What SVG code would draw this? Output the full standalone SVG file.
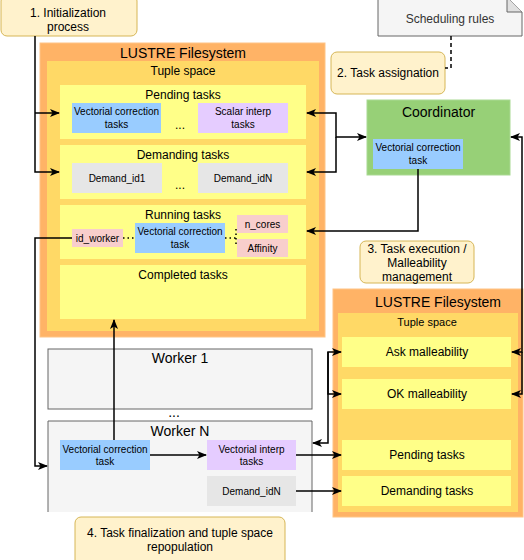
<svg xmlns="http://www.w3.org/2000/svg" width="524" height="560" viewBox="0 0 524 560">
<defs>
<marker id="arr" viewBox="0 0 10 8" refX="9" refY="4" markerWidth="10" markerHeight="8" markerUnits="userSpaceOnUse" orient="auto-start-reverse">
<path d="M0,0 L10,4 L0,8 L2.5,4 Z" fill="#000"/>
</marker>
<style>
text{font-family:"Liberation Sans",Arial,sans-serif;fill:#000;text-anchor:middle}
.t14{font-size:14px}.t12{font-size:12px}.t11{font-size:11px}.t10{font-size:10px}
.step{fill:#fff2cc;stroke:#d6b656;stroke-width:1}
.fs{fill:#ffb366;stroke:#ffc485;stroke-width:1}
.ts{fill:#ffd966;stroke:none}
.row{fill:#ffff88;stroke:none}
.blue{fill:#99ccff;stroke:none}
.purple{fill:#e5ccff;stroke:none}
.gray{fill:#e6e6e6;stroke:none}
.pink{fill:#f8cecc;stroke:none}
.worker{fill:#f5f5f5;stroke:#666;stroke-width:1}
.e{fill:none;stroke:#000;stroke-width:1.5}
.dot{fill:none;stroke:#000;stroke-width:1.5;stroke-dasharray:1.5 3}
</style>
</defs>

<g id="step1"><rect class="step" x="1" y="-5" width="136" height="41" rx="6"/><text class="t12" x="68" y="17">1. Initialization</text><text class="t12" x="68" y="31">process</text></g>

<g id="note"><path d="M378,-3 H507 L522,12 V36 H378 Z" fill="#f5f5f5" stroke="#666" stroke-width="1"/><path d="M507,-3 V12 H522" fill="#e0e0e0" stroke="#666" stroke-width="1"/><text class="t12" x="450" y="23" style="fill:#333">Scheduling rules</text></g>

<g id="step2"><rect class="step" x="331" y="52" width="114" height="42" rx="6"/><text class="t12" x="388" y="77">2. Task assignation</text></g>

<g id="lustre1">
<rect class="fs" x="40" y="43" width="285" height="294"/>
<text class="t14" x="183" y="57.5">LUSTRE Filesystem</text>
<rect class="ts" x="47" y="61" width="272" height="270"/>
<text class="t12" x="183" y="75">Tuple space</text>
</g>
<g id="pending">
<rect class="row" x="60" y="85" width="246" height="54"/><text class="t12" x="183" y="99">Pending tasks</text>
<rect class="blue" x="72" y="103" width="89" height="30"/><text class="t10" x="116.5" y="114.5">Vectorial correction</text><text class="t10" x="116.5" y="127.5">tasks</text>
<text class="t12" x="180" y="129">...</text>
<rect class="purple" x="198" y="103" width="90" height="30"/><text class="t10" x="243" y="114.5">Scalar interp</text><text class="t10" x="243" y="127.5">tasks</text>
</g>
<g id="demanding">
<rect class="row" x="60" y="145" width="246" height="54"/><text class="t12" x="183" y="159">Demanding tasks</text>
<rect class="gray" x="72" y="163" width="90" height="30"/><text class="t10" x="117" y="181.5">Demand_id1</text>
<text class="t12" x="180" y="189">...</text>
<rect class="gray" x="198" y="163" width="90" height="30"/><text class="t10" x="243" y="181.5">Demand_idN</text>
</g>
<g id="running">
<rect class="row" x="60" y="205" width="246" height="54"/><text class="t12" x="183" y="219">Running tasks</text>
<rect class="pink" x="72" y="229" width="51" height="18"/><text class="t10" x="97.5" y="241.5">id_worker</text>
<rect class="blue" x="135" y="223" width="90" height="30"/><text class="t10" x="180" y="235">Vectorial correction</text><text class="t10" x="180" y="248">task</text>
<rect class="pink" x="237" y="215" width="51" height="18"/><text class="t10" x="262.5" y="227.5">n_cores</text>
<rect class="pink" x="237" y="239" width="51" height="18"/><text class="t10" x="262.5" y="251.5">Affinity</text>
<path class="dot" d="M123,238 H135 M225,238 H236 M236,229 V247"/>
</g>
<g id="completed"><rect class="row" x="60" y="265" width="246" height="54"/><text class="t12" x="183" y="279">Completed tasks</text></g>

<g id="coordinator">
<rect x="367" y="100" width="143" height="75" fill="#97d077" stroke="#a9d993" stroke-width="1"/>
<text class="t14" x="438.5" y="117">Coordinator</text>
<rect class="blue" x="373" y="139" width="90" height="30"/><text class="t10" x="418" y="151">Vectorial correction</text><text class="t10" x="418" y="164">task</text>
</g>

<g id="step3"><rect class="step" x="360" y="241" width="114" height="42" rx="6"/><text class="t12" x="417" y="253">3. Task execution /</text><text class="t12" x="417" y="267">Malleability</text><text class="t12" x="417" y="281">management</text></g>

<g id="lustre2">
<rect class="fs" x="333" y="289" width="190" height="228"/>
<text class="t14" x="438" y="307">LUSTRE Filesystem</text>
<rect class="ts" x="338" y="313" width="180" height="199"/>
<text class="t11" x="427" y="326">Tuple space</text>
<rect class="row" x="342" y="337" width="169" height="30"/><text class="t12" x="427" y="356">Ask malleability</text>
<rect class="row" x="342" y="379" width="169" height="30"/><text class="t12" x="427" y="398">OK malleability</text>
<rect class="row" x="342" y="440" width="169" height="30"/><text class="t12" x="427" y="459">Pending tasks</text>
<rect class="row" x="342" y="476" width="169" height="30"/><text class="t12" x="427" y="495">Demanding tasks</text>
</g>

<g id="worker1"><rect class="worker" x="48" y="349" width="264" height="60"/><text class="t14" x="180" y="363">Worker 1</text></g>
<text class="t14" x="174" y="417">...</text>
<g id="workerN">
<path d="M48,512 V421 H312 V512 Z" fill="#f5f5f5" stroke="none"/>
<path d="M48,512 V421 H312 V512" fill="none" stroke="#666" stroke-width="1"/>
<text class="t14" x="180" y="436">Worker N</text>
<rect class="blue" x="60" y="440" width="90" height="30"/><text class="t10" x="105" y="452.5">Vectorial correction</text><text class="t10" x="105" y="464.5">task</text>
<rect class="purple" x="207" y="440" width="89" height="30"/><text class="t10" x="251.5" y="452.5">Vectorial interp</text><text class="t10" x="251.5" y="464.5">tasks</text>
<rect class="gray" x="207" y="476" width="89" height="30"/><text class="t10" x="251.5" y="494.5">Demand_idN</text>
</g>

<g id="step4"><rect class="step" x="75" y="517" width="210" height="50" rx="6"/><text class="t12" x="180" y="537">4. Task finalization and tuple space</text><text class="t12" x="180" y="551">repopulation</text></g>

<g id="connectors">
<path class="e" d="M35,36 V172 H59" marker-end="url(#arr)"/>
<path class="e" d="M35,113 H59" marker-end="url(#arr)"/>
<path fill="none" stroke="#000" stroke-width="1.5" stroke-dasharray="4 3" d="M451,36 V68 H445"/>
<path class="e" d="M366,137 H336 V113 H307" marker-start="url(#arr)" marker-end="url(#arr)"/>
<path class="e" d="M336,137 V172 H307" marker-end="url(#arr)"/>
<path class="e" d="M418,169 V231 H307" marker-end="url(#arr)"/>
<path class="e" d="M511,137 H522 V352 H512" marker-start="url(#arr)" marker-end="url(#arr)"/>
<path class="e" d="M522,352 V394 H512" marker-end="url(#arr)"/>
<path class="e" d="M72,238 H35 V466 H47" marker-end="url(#arr)"/>
<path class="e" d="M114,440 V320" marker-end="url(#arr)"/>
<path class="e" d="M150,455 H206" marker-end="url(#arr)"/>
<path class="e" d="M296,455 H341" marker-end="url(#arr)"/>
<path class="e" d="M296,491 H341" marker-end="url(#arr)"/>
<path class="e" d="M313,443 H328 V352 H341" marker-start="url(#arr)" marker-end="url(#arr)"/>
<path class="e" d="M328,352 V394 H341" marker-end="url(#arr)"/>
</g>
</svg>
